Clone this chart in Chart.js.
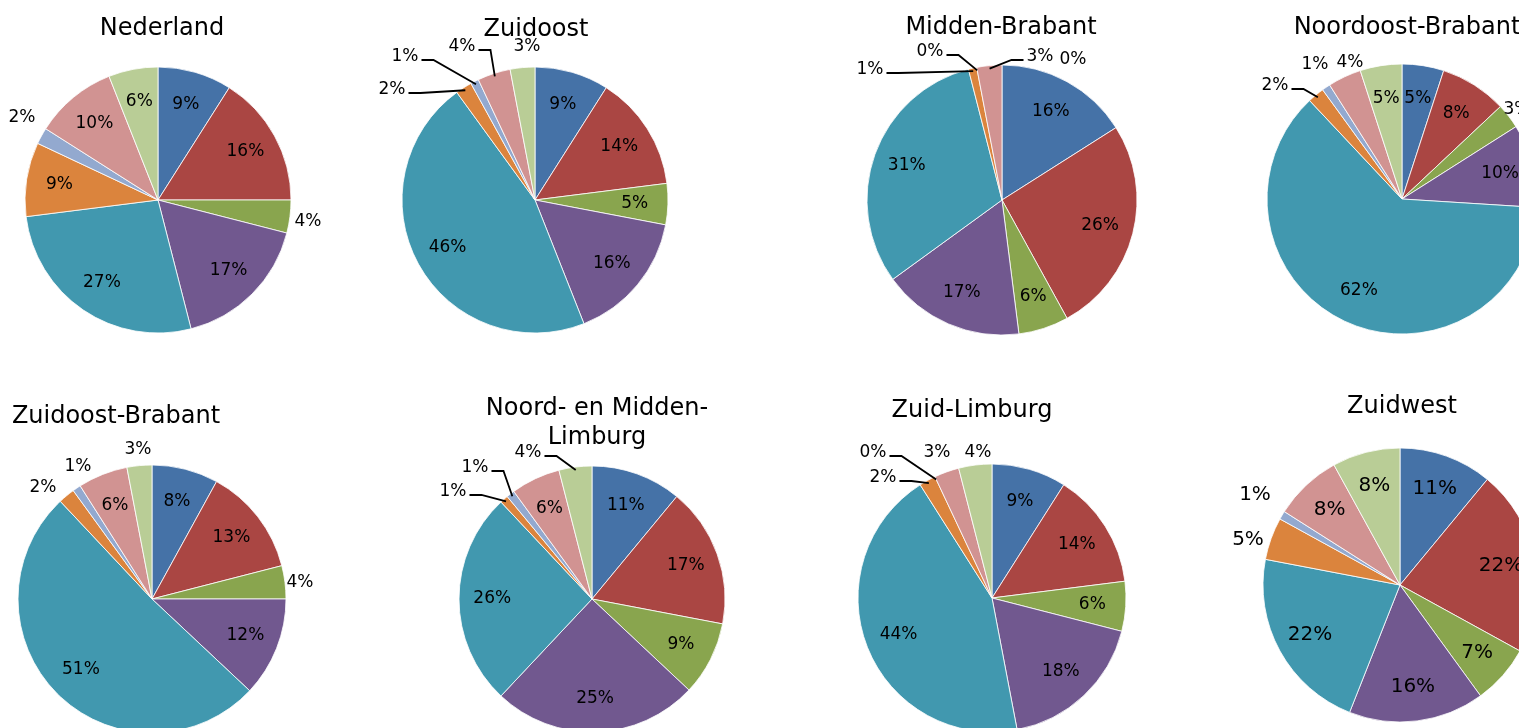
<!DOCTYPE html>
<html>
<head>
<meta charset="utf-8">
<script src="https://cdn.jsdelivr.net/npm/chart.js@4.4.1/dist/chart.umd.min.js"></script>
<style>
html,body{margin:0;padding:0;background:#fff;width:1519px;height:728px;overflow:hidden;position:relative;font-family:"DejaVu Sans",sans-serif;}
.box{position:absolute;}
.box canvas{display:block;}
.title{position:absolute;transform:translate(-50%,-50%);font-size:24px;line-height:29px;color:#000;text-align:center;}
</style>
</head>
<body>
<script>
// ---- data ----
const categories = ['Categorie 1','Categorie 2','Categorie 3','Categorie 4','Categorie 5','Categorie 6','Categorie 7','Categorie 8','Categorie 9'];
const regions = ['Nederland','Zuidoost','Midden-Brabant','Noordoost-Brabant','Zuidoost-Brabant','Noord- en Midden-Limburg','Zuid-Limburg','Zuidwest'];
const nederland          = [9,16,4,17,27,9,2,10,6];
const zuidoost           = [9,14,5,16,46,2,1,4,3];
const middenBrabant      = [16,26,6,17,31,1,0,3,0];
const noordoostBrabant   = [5,8,3,10,62,2,1,4,5];
const zuidoostBrabant    = [8,13,4,12,51,2,1,6,3];
const noordMiddenLimburg = [11,17,9,25,26,1,1,6,4];
const zuidLimburg        = [9,14,6,18,44,2,0,3,4];
const zuidwest           = [11,22,7,16,22,5,1,8,8];
const seriesValues = [nederland,zuidoost,middenBrabant,noordoostBrabant,zuidoostBrabant,noordMiddenLimburg,zuidLimburg,zuidwest];

// ---- style / layout ----
const sliceColors = ['#4572A7','#AA4643','#89A54E','#71588F','#4198AF','#DB843D','#93A9CF','#D19392','#B9CD96'];
const layout = [
  {cx:158, cy:200, r:133, tx:162, ty:27, tw:null, fs:17, place:{2:[150,22],6:[-136,-82]}},
  {cx:535, cy:200, r:133, tx:536, ty:28, tw:null, fs:17, place:{8:[-8,-153],7:[-73,-153,1],6:[-130,-143,1],5:[-143,-110,1]}},
  {cx:1002,cy:200, r:135, tx:1001,ty:26, tw:null, fs:17, place:{5:[-132,-130,1],6:[-72,-148,1],7:[38,-143,1],8:[71,-140]}},
  {cx:1402,cy:199, r:135, tx:1407,ty:26, tw:null, fs:17, place:{2:[115,-89],5:[-127,-113,1],6:[-87,-134],7:[-52,-136]}},
  {cx:152, cy:599, r:134, tx:116, ty:415, tw:null, fs:17, place:{2:[148,-16],8:[-14,-149],6:[-74,-132],5:[-109,-111]}},
  {cx:592, cy:599, r:133, tx:597, ty:422, tw:240, fs:17, place:{8:[-64,-146,1],6:[-117,-131,1],5:[-139,-107,1]}},
  {cx:992, cy:598, r:134, tx:972, ty:409, tw:null, fs:17, place:{8:[-14,-145],7:[-55,-145],6:[-119,-145,1],5:[-109,-120,1]}},
  {cx:1400,cy:585, r:137, tx:1402,ty:405, tw:null, fs:20, place:{6:[-145,-90],5:[-152,-45]}}
];
const S = 400;

function makeLabelPlugin(place, fontSize){
  return {
    id:'pctLabels',
    afterDatasetsDraw(chart){
      const ctx = chart.ctx;
      const meta = chart.getDatasetMeta(0);
      const data = chart.data.datasets[0].data;
      const total = data.reduce((a,b)=>a+b,0);
      ctx.save();
      ctx.font = fontSize + 'px "DejaVu Sans"';
      ctx.fillStyle = '#000';
      ctx.strokeStyle = '#000';
      ctx.lineWidth = 1.8;
      ctx.textAlign = 'center';
      ctx.textBaseline = 'middle';
      meta.data.forEach((arc,i)=>{
        const p = arc.getProps(['x','y','startAngle','endAngle','outerRadius'], true);
        const mid = (p.startAngle + p.endAngle)/2;
        const txt = Math.round(data[i]/total*100) + '%';
        const o = place[i];
        let lx, ly;
        if (o) { lx = p.x + o[0]; ly = p.y + o[1]; }
        else { lx = p.x + Math.cos(mid)*p.outerRadius*0.75; ly = p.y + Math.sin(mid)*p.outerRadius*0.75; }
        if (o && o[2]) {
          const ex = p.x + Math.cos(mid)*(p.outerRadius-3);
          const ey = p.y + Math.sin(mid)*(p.outerRadius-3);
          const w = ctx.measureText(txt).width;
          ctx.beginPath();
          if (Math.abs(ex-lx) > w/2 + 6) {
            const dir = ex > lx ? 1 : -1;
            const sx = lx + dir*(w/2+3), sy = ly + 3;
            ctx.moveTo(sx, sy);
            ctx.lineTo(sx + dir*12, sy);
            ctx.lineTo(ex, ey);
          } else {
            ctx.moveTo(lx, ly + 9);
            ctx.lineTo(ex, ey);
          }
          ctx.stroke();
        }
        ctx.fillText(txt, lx, ly);
      });
      ctx.restore();
    }
  };
}

regions.forEach((name, k)=>{
  const L = layout[k];
  const box = document.createElement('div');
  box.className = 'box';
  box.style.left = (L.cx - S/2) + 'px';
  box.style.top = (L.cy - S/2) + 'px';
  const cv = document.createElement('canvas');
  cv.width = S; cv.height = S;
  cv.style.width = S + 'px'; cv.style.height = S + 'px';
  box.appendChild(cv);
  document.body.appendChild(box);

  const t = document.createElement('div');
  t.className = 'title';
  t.style.left = L.tx + 'px';
  t.style.top = L.ty + 'px';
  if (L.tw) { t.style.width = L.tw + 'px'; t.style.whiteSpace = 'normal'; }
  else { t.style.whiteSpace = 'nowrap'; }
  t.textContent = name;
  document.body.appendChild(t);

  new Chart(cv, {
    type:'pie',
    data:{
      labels:categories,
      datasets:[{
        data:seriesValues[k],
        backgroundColor:sliceColors,
        borderColor:'rgba(255,255,255,0.8)',
        borderWidth:1,
        radius:L.r
      }]
    },
    options:{
      responsive:false,
      animation:false,
      devicePixelRatio:1,
      layout:{padding:0},
      events:[],
      plugins:{legend:{display:false}, tooltip:{enabled:false}, title:{display:false}}
    },
    plugins:[makeLabelPlugin(L.place, L.fs)]
  });
});
</script>
</body>
</html>
